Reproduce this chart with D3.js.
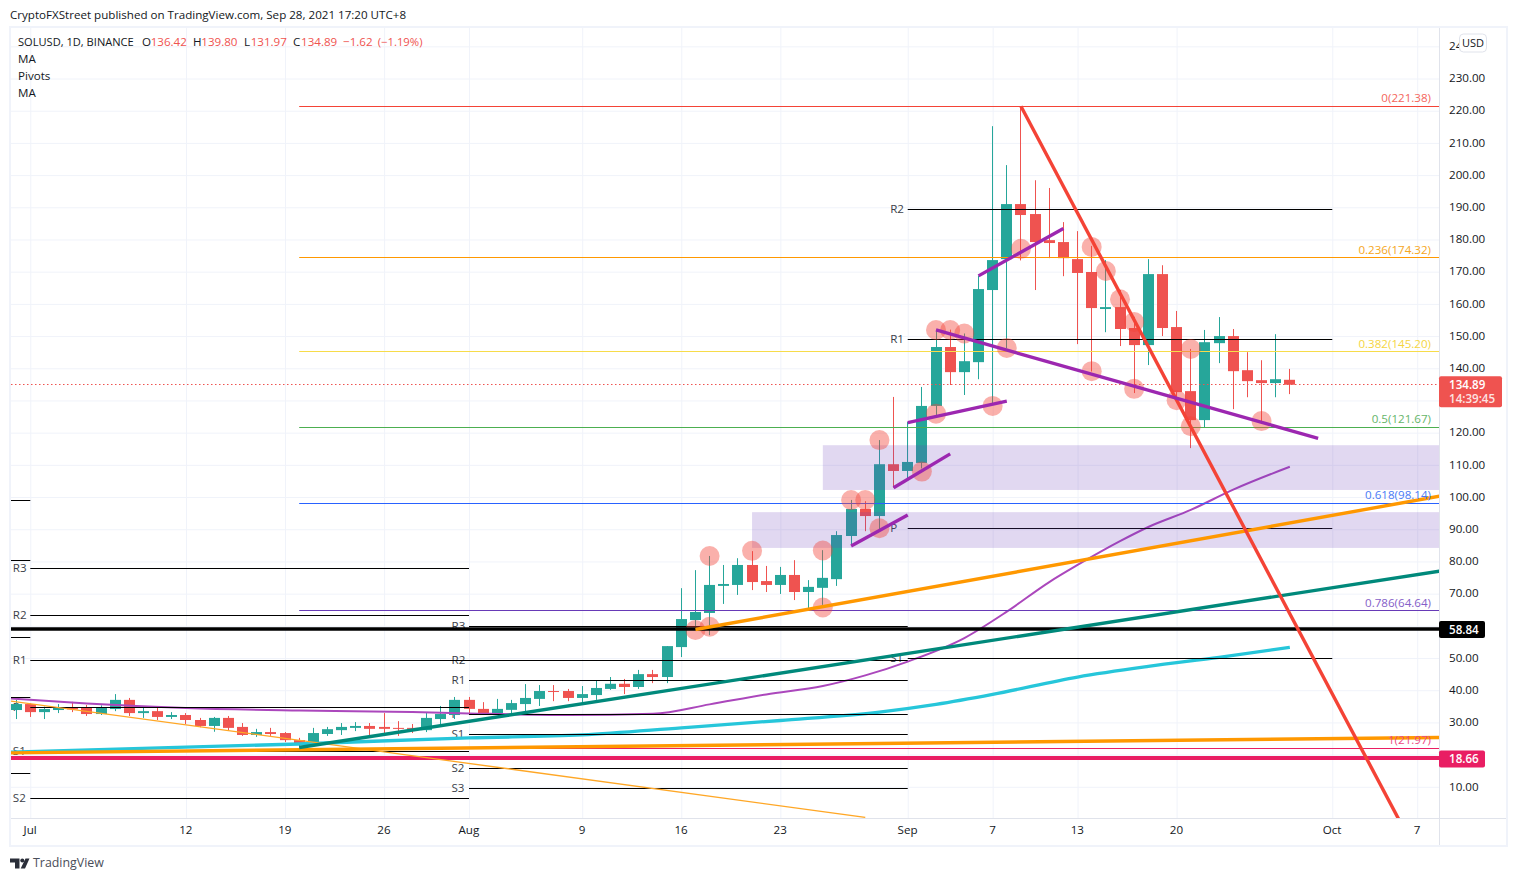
<!DOCTYPE html>
<html>
<head>
<meta charset="utf-8">
<title>SOLUSD</title>
<script src="https://cdn.jsdelivr.net/npm/d3@7"></script>
<style>
  html, body { margin: 0; background: #fff; }
  svg { display: block; }
  text { font-family: "Open Sans", "Noto Sans", sans-serif; font-size: 11.6px; fill: #131722; }
</style>
</head>
<body>
<script>
"use strict";

//Daily candles, first one is Jun 30
const firstCandle = "2021-06-30";
const opens = [33.85, 35.7, 33.2, 33.85, 34.7, 34.5, 32.6, 34.15, 37, 32.9, 33.5, 31.7, 32.3, 30.75, 28.9, 31.4, 28.6, 26.1, 27, 26.7, 24.5, 23.3, 26.4, 27.6, 28.3, 28.9, 28.6, 28.3, 28.3, 27.6, 31.05, 32.3,
  37, 34.2, 32.9, 33.9, 35.7, 37.3, 39.75, 39.75, 37.6, 38.5, 40.4, 42, 41, 45, 44.1, 53.4, 61.8, 64, 72.4, 72.7, 78.9, 73.9, 72.7, 75.8, 70.5, 71.8, 74.5, 87.9, 96.3, 94.1, 110.2,
  108.1, 110.6, 128.3, 146.6, 138.8, 141.9, 164.3, 173.9, 191, 187.9, 179.8, 179.2, 173.9, 169.9, 158.4, 159, 152.5, 147.2, 169.25, 152.8, 132.9, 123.9, 147.8, 150, 139.4, 136.3, 135.4, 136.42];
const highs = [37, 35.9, 34.9, 35.7, 36.4, 35.4, 35.3, 38.8, 37.6, 35.1, 34.5, 33.2, 32.9, 31.4, 31.7, 32, 29.8, 28, 28.3, 27, 25.2, 28.3, 28.6, 29.8, 30.1, 29.8, 32.9, 30.4, 29.5, 32.9, 35.1, 37.9,
  37.9, 36.3, 37.3, 37, 41.9, 41.6, 41.6, 40.4, 41.3, 42.9, 44.1, 43.5, 46.3, 46.3, 53.7, 71.7, 77.3, 81.7, 78.9, 81, 83.2, 78.6, 78.3, 80.4, 74.2, 83.5, 89.4, 99.1, 98.7, 117.7, 131.1,
  123.3, 134.2, 152, 152, 150.8, 168.7, 215.2, 203.1, 221.38, 198.4, 196, 185.4, 182.6, 178, 173.6, 164.3, 156, 173.9, 172, 157.8, 146, 151.9, 155.9, 152.2, 145, 142.5, 150.6, 139.8];
const lows = [31.05, 31.7, 31.05, 32.9, 33.2, 32, 32.3, 33.5, 32, 31.4, 30.75, 31.05, 29.5, 28.5, 27.1, 27.6, 25.8, 25.5, 25.8, 23.9, 21.95, 23, 25.8, 26.1, 27.3, 26.1, 26.4, 25.8, 26.7, 27, 29.2, 31.05,
  32.9, 32.3, 32.3, 32.8, 33.4, 35.1, 36.6, 36.6, 36, 37, 40.1, 38.8, 40.4, 42.2, 42.2, 50.3, 58.7, 57.1, 66.8, 69.6, 71.1, 70.5, 69.9, 68, 65.4, 66.5, 72.4, 84.8, 89.4, 89.8, 102.9,
  105.8, 108.9, 125.5, 134.8, 131.7, 136.6, 129.1, 146.2, 173.5, 164.3, 174.2, 168.6, 147.5, 139, 151.2, 146.9, 132.3, 141, 150, 130, 115.2, 121.7, 141.6, 127.3, 131, 123.4, 131, 131.97];
const closes = [35.7, 33.2, 34.15, 34.7, 34.05, 32.6, 34.5, 37, 32.9, 33.5, 31.7, 32.3, 30.75, 28.9, 31.4, 28.3, 26.1, 27, 26.4, 24.5, 23.3, 26.7, 27.9, 28.6, 28.9, 28, 28, 28, 28, 31.4, 32.6, 37,
  34.2, 32.9, 34.2, 36, 37.6, 39.75, 39.45, 37.6, 38.8, 40.7, 42, 41, 45, 44.1, 53.7, 62.1, 64.3, 72.7, 73, 78.9, 73.6, 72.7, 75.8, 70.5, 72.1, 74.9, 88.2, 96.3, 94.1, 110.2, 108.1,
  110.9, 128.3, 146.6, 138.8, 142.2, 164.6, 173.6, 191, 187.6, 179.2, 178.9, 174.2, 169.6, 158.7, 159, 152.2, 147.2, 169.25, 152.5, 132.6, 123.9, 148.1, 150, 139.1, 136, 135.4, 136.6, 134.89];

//Moving averages
const maPurpleDates = ["2021-06-29", "2021-07-05", "2021-07-12", "2021-07-20", "2021-07-28", "2021-08-01", "2021-08-08", "2021-08-14", "2021-08-18", "2021-08-22", "2021-08-26", "2021-08-29", "2021-09-01", "2021-09-05", "2021-09-08", "2021-09-11", "2021-09-13", "2021-09-16", "2021-09-18", "2021-09-21", "2021-09-24", "2021-09-28"];
const maPurpleValues = [37.6, 35.9, 34.5, 33.7, 33.2, 32.8, 32.3, 32.7, 35.6, 38.7, 41.3, 44.6, 48.9, 56.2, 64.4, 73.6, 78.9, 86.3, 90.7, 96, 102.3, 109.4];
const maCyanDates = ["2021-06-29", "2021-07-20", "2021-08-01", "2021-08-09", "2021-08-16", "2021-08-23", "2021-08-30", "2021-09-03", "2021-09-07", "2021-09-13", "2021-09-18", "2021-09-23", "2021-09-28"];
const maCyanValues = [20.7, 23.3, 25.2, 26.1, 28.3, 30.6, 33.2, 35.6, 38.7, 44.1, 47.4, 50.2, 53.3];

//Fibonacci retracement
const fibNames = ["0", "0.236", "0.382", "0.5", "0.618", "0.786", "1"];
const fibLevels = [221.38, 174.32, 145.2, 121.67, 98.14, 64.64, 21.97];
const fibColors = ["#f44336", "#ff9800", "#f7dc4a", "#4caf50", "#2962ff", "#673ab7", "#e91e63"];
const fibTextColors = ["#f4665c", "#f5a623", "#f5d53f", "#66b56a", "#4a7af5", "#8560c8", "#ec4a82"];

//Pivot levels per month, the June one only shows before Jul 1
const pivotJunLevels = [99, 80.3, 56.4, 37.8, 14.2];
const pivotJulNames = ["R3", "R2", "R1", "P", "S1", "S2"];
const pivotJulLevels = [77.9, 63.3, 49.3, 34.7, 21.1, 6.4];
const pivotAugNames = ["R3", "R2", "R1", "P", "S1", "S2", "S3"];
const pivotAugLevels = [59.7, 49.2, 43.1, 32.5, 26.3, 15.7, 9.4];
const pivotSepNames = ["R2", "R1", "P", "S1"];
const pivotSepLevels = [189.3, 149, 90.3, 49.9];

//Supply and demand boxes
const zoneStarts = ["2021-08-21", "2021-08-26"];
const zoneTops = [95.3, 116.1];
const zoneBottoms = [84.2, 102.2];

//Marked touches
const touchDates = ["2021-08-17", "2021-08-18", "2021-08-18", "2021-08-21", "2021-08-26", "2021-08-26", "2021-08-28", "2021-08-29", "2021-08-30", "2021-08-30", "2021-09-02", "2021-09-03", "2021-09-03", "2021-09-04", "2021-09-05", "2021-09-07", "2021-09-08", "2021-09-09", "2021-09-14", "2021-09-14", "2021-09-15", "2021-09-16", "2021-09-17", "2021-09-17", "2021-09-20", "2021-09-21", "2021-09-21", "2021-09-26"];
const touchPrices = [58.7, 81.7, 59.7, 83.3, 83.4, 65.7, 99.1, 99.1, 90.3, 117.7, 107.9, 125.9, 151.9, 151.9, 150.8, 128.3, 146.3, 177.1, 177.7, 139.1, 170.2, 161.4, 154.4, 133.6, 130.1, 146, 122, 123.6];

//Trend lines: start date, start price, end date, end price
const trendStarts = ["2021-06-29", "2021-06-29", "2021-07-20", "2021-08-17", "2021-09-09", "2021-08-28", "2021-08-31", "2021-09-01", "2021-09-03", "2021-09-06"];
const trendStartPrices = [37, 20.5, 22.2, 58.85, 221.38, 84.8, 102.9, 123.1, 151.9, 168.7];
const trendEnds = ["2021-08-29", "2021-10-10", "2021-10-10", "2021-10-10", "2021-10-07", "2021-09-01", "2021-09-04", "2021-09-08", "2021-09-30", "2021-09-12"];
const trendEndPrices = [0.5, 25.4, 77.95, 101.4, -10.9, 94.4, 113.4, 129.8, 118.2, 183.4];
const trendColors = ["#ffa726", "#ff9800", "#00897b", "#ff9800", "#f44336", "#9c27b0", "#9c27b0", "#9c27b0", "#9c27b0", "#9c27b0"];
const trendWidths = [1.3, 3.4, 3.4, 3.4, 3.4, 3.4, 3.4, 3.4, 3.4, 3.4];

//Axis ticks
const priceTicks = d3.range(10, 250, 10);
const hiddenPriceLabels = [20, 60, 130];
const timeTicks = ["2021-07-01", "2021-07-12", "2021-07-19", "2021-07-26", "2021-08-01", "2021-08-09", "2021-08-16", "2021-08-23", "2021-09-01", "2021-09-07", "2021-09-13", "2021-09-20", "2021-10-01", "2021-10-07"];
const timeLabels = ["Jul", "12", "19", "26", "Aug", "9", "16", "23", "Sep", "7", "13", "20", "Oct", "7"];

const lastPrice = 134.89;
const supportBlack = 58.84;
const supportPink = 18.66;

//SVG dimensions
const w = 1517;
const h = 881;
const frameLeft = 10;
const frameRight = 1507;
const frameTop = 27;
const frameBottom = 846;
const plotLeft = 11;
const plotRight = 1439;
const plotBottom = 818;

const green = "#26a69a";
const red = "#ef5350";

const parseDay = d3.utcParse("%Y-%m-%d");

const xScale = d3
  .scaleUtc()
  .domain([parseDay("2021-07-01"), parseDay("2021-10-07")])
  .range([30.3, 1417.2]);
const yScale = d3.scaleLinear().domain([0, 246]).range([819, frameTop]);

//Keeps 1px lines on the pixel grid
const crisp = (v) => Math.floor(v) + 0.5;
const candleX = (date) => crisp(xScale(date));

const candles = opens.map((open, i) => ({
  date: d3.utcDay.offset(parseDay(firstCandle), i),
  open,
  high: highs[i],
  low: lows[i],
  close: closes[i],
}));

const svg = d3.select("body").append("svg").attr("width", w).attr("height", h);

svg
  .append("defs")
  .append("clipPath")
  .attr("id", "plot")
  .append("rect")
  .attr("x", plotLeft)
  .attr("y", frameTop)
  .attr("width", plotRight - plotLeft)
  .attr("height", plotBottom - frameTop);

//Grid from the axes' own ticks
const xGrid = d3
  .axisBottom(xScale)
  .tickValues(timeTicks.map(parseDay))
  .tickSize(plotBottom - frameTop)
  .tickFormat("");
svg
  .append("g")
  .attr("transform", `translate(0, ${frameTop})`)
  .call(xGrid)
  .call((g) => g.select(".domain").remove())
  .call((g) => g.selectAll("line").attr("stroke", "#f0f3fa"));

const yGrid = d3
  .axisLeft(yScale)
  .tickValues(priceTicks)
  .tickSize(plotRight - plotLeft)
  .tickFormat("");
svg
  .append("g")
  .attr("transform", `translate(${plotRight}, 0)`)
  .call(yGrid)
  .call((g) => g.select(".domain").remove())
  .call((g) => g.selectAll("line").attr("stroke", "#f0f3fa"));

const plot = svg.append("g").attr("clip-path", "url(#plot)");

//Pivot labels sit under the candles
const pivotLabel = (names, levels, start) => {
  plot
    .append("g")
    .selectAll("text")
    .data(names)
    .enter()
    .append("text")
    .attr("x", xScale(parseDay(start)) - 17.5)
    .attr("y", (d, i) => yScale(levels[i]))
    .attr("dy", "0.3em")
    .style("fill", "#3c3f4a")
    .text((d) => d);
};
pivotLabel(pivotJulNames, pivotJulLevels, "2021-07-01");
pivotLabel(pivotAugNames, pivotAugLevels, "2021-08-01");
pivotLabel(pivotSepNames, pivotSepLevels, "2021-09-01");

//Candles
const candle = plot.append("g").selectAll("g").data(candles).enter().append("g");
candle
  .append("line")
  .attr("x1", (d) => candleX(d.date))
  .attr("x2", (d) => candleX(d.date))
  .attr("y1", (d) => yScale(d.high))
  .attr("y2", (d) => yScale(d.low))
  .attr("stroke", (d) => (d.close >= d.open ? green : red));
candle
  .append("rect")
  .attr("x", (d) => candleX(d.date) - 5.5)
  .attr("width", 11)
  .attr("y", (d) => yScale(Math.max(d.open, d.close)))
  .attr("height", (d) => Math.max(1, Math.abs(yScale(d.open) - yScale(d.close))))
  .attr("fill", (d) => (d.close >= d.open ? green : red));

//Moving averages
const line = d3
  .line()
  .x((d) => xScale(d[0]))
  .y((d) => yScale(d[1]))
  .curve(d3.curveMonotoneX);
const drawMa = (dates, values, color, width) => {
  plot
    .append("path")
    .attr("d", line(dates.map((d, i) => [parseDay(d), values[i]])))
    .attr("fill", "none")
    .attr("stroke", color)
    .attr("stroke-width", width);
};
drawMa(maPurpleDates, maPurpleValues, "#ab47bc", 2);
drawMa(maCyanDates, maCyanValues, "#26c6da", 3.3);

//Pivot lines
const pivotLines = (levels, start, end) => {
  plot
    .append("g")
    .selectAll("line")
    .data(levels)
    .enter()
    .append("line")
    .attr("x1", xScale(parseDay(start)))
    .attr("x2", xScale(parseDay(end)))
    .attr("y1", (d) => crisp(yScale(d)))
    .attr("y2", (d) => crisp(yScale(d)))
    .attr("stroke", "#000")
    .attr("stroke-width", 1);
};
pivotLines(pivotJunLevels, "2021-06-01", "2021-07-01");
pivotLines(pivotJulLevels, "2021-07-01", "2021-08-01");
pivotLines(pivotAugLevels, "2021-08-01", "2021-09-01");
pivotLines(pivotSepLevels, "2021-09-01", "2021-10-01");

//Fib lines start at the Jul 20 low
const fibStart = xScale(parseDay("2021-07-20"));
plot
  .append("g")
  .selectAll("line")
  .data(fibLevels)
  .enter()
  .append("line")
  .attr("x1", fibStart)
  .attr("x2", plotRight)
  .attr("y1", (d) => crisp(yScale(d)))
  .attr("y2", (d) => crisp(yScale(d)))
  .attr("stroke", (d, i) => fibColors[i])
  .attr("stroke-width", 1);

//Boxes
plot
  .append("g")
  .selectAll("rect")
  .data(zoneStarts)
  .enter()
  .append("rect")
  .attr("x", (d) => xScale(parseDay(d)))
  .attr("width", (d) => plotRight - xScale(parseDay(d)))
  .attr("y", (d, i) => yScale(zoneTops[i]))
  .attr("height", (d, i) => yScale(zoneBottoms[i]) - yScale(zoneTops[i]))
  .attr("fill", "#673ab7")
  .attr("fill-opacity", 0.2);

//Price line
plot
  .append("line")
  .attr("x1", plotLeft)
  .attr("x2", plotRight)
  .attr("y1", crisp(yScale(lastPrice)))
  .attr("y2", crisp(yScale(lastPrice)))
  .attr("stroke", red)
  .attr("stroke-dasharray", "1.5 2.5");

//Circles on the touches
plot
  .append("g")
  .selectAll("circle")
  .data(touchDates)
  .enter()
  .append("circle")
  .attr("cx", (d) => xScale(parseDay(d)))
  .attr("cy", (d, i) => yScale(touchPrices[i]))
  .attr("r", 10)
  .attr("fill", "#f44336")
  .attr("fill-opacity", 0.42);

//Horizontal supports
[
  [supportBlack, "#000", 3.3],
  [supportPink, "#e91e63", 4],
].forEach((level) => {
  plot
    .append("line")
    .attr("x1", plotLeft)
    .attr("x2", plotRight)
    .attr("y1", Math.floor(yScale(level[0])))
    .attr("y2", Math.floor(yScale(level[0])))
    .attr("stroke", level[1])
    .attr("stroke-width", level[2]);
});

//Trend lines
plot
  .append("g")
  .selectAll("line")
  .data(trendStarts)
  .enter()
  .append("line")
  .attr("x1", (d) => xScale(parseDay(d)))
  .attr("y1", (d, i) => yScale(trendStartPrices[i]))
  .attr("x2", (d, i) => xScale(parseDay(trendEnds[i])))
  .attr("y2", (d, i) => yScale(trendEndPrices[i]))
  .attr("stroke", (d, i) => trendColors[i])
  .attr("stroke-width", (d, i) => trendWidths[i]);

//Fib labels
plot
  .append("g")
  .selectAll("text")
  .data(fibLevels)
  .enter()
  .append("text")
  .attr("x", 1431)
  .attr("y", (d) => yScale(d) - 8)
  .attr("dy", "0.36em")
  .attr("text-anchor", "end")
  .style("fill", (d, i) => fibTextColors[i])
  .text((d, i) => `${fibNames[i]}(${d3.format(".2f")(d)})`);

//Frame and axis lines
svg
  .append("rect")
  .attr("x", frameLeft)
  .attr("y", frameTop)
  .attr("width", frameRight - frameLeft)
  .attr("height", frameBottom - frameTop)
  .attr("fill", "none")
  .attr("stroke", "#f0f3fa")
  .attr("stroke-width", 2);

//Price axis, the labels behind the price tags are not shown
const yAxis = d3
  .axisRight(yScale)
  .tickValues(priceTicks)
  .tickSize(0)
  .tickPadding(10)
  .tickFormat((d) => (hiddenPriceLabels.includes(d) ? "" : d3.format(".2f")(d)));
svg
  .append("g")
  .attr("transform", `translate(${plotRight}, -0.5)`)
  .call(yAxis)
  .call((g) => g.select(".domain").remove());

//Time axis
const xAxis = d3
  .axisBottom(xScale)
  .tickValues(timeTicks.map(parseDay))
  .tickSize(0)
  .tickPadding(8)
  .tickFormat((d, i) => timeLabels[i]);
svg
  .append("g")
  .attr("transform", `translate(-0.7, ${plotBottom})`)
  .call(xAxis)
  .call((g) => g.select(".domain").remove());

svg
  .selectAll(".axisLine")
  .data([
    [plotLeft, plotBottom + 0.5, frameRight - 1, plotBottom + 0.5],
    [plotRight + 0.5, frameTop + 1, plotRight + 0.5, frameBottom - 1],
  ])
  .enter()
  .append("line")
  .attr("x1", (d) => d[0])
  .attr("y1", (d) => d[1])
  .attr("x2", (d) => d[2])
  .attr("y2", (d) => d[3])
  .attr("stroke", "#e0e3eb");

//Price tags
const tag = (price, color, lines) => {
  svg
    .append("rect")
    .attr("x", plotRight)
    .attr("y", yScale(price) - 8.5)
    .attr("width", lines.length === 1 ? 46 : 63)
    .attr("height", lines.length === 1 ? 17 : 31)
    .attr("rx", 2)
    .attr("fill", color);
  lines.forEach((label, i) => {
    svg
      .append("text")
      .attr("x", plotRight + 10)
      .attr("y", yScale(price) + i * 14.5)
      .attr("dy", "0.36em")
      .style("fill", i === 0 ? "#fff" : "#fde3e2")
      .style("font-weight", 600)
      .text(label);
  });
};
tag(lastPrice, red, ["134.89", "14:39:45"]);
tag(supportBlack, "#000", ["58.84"]);
tag(supportPink, "#e91e63", ["18.66"]);

//USD box on top of the clipped 240 label
svg
  .append("rect")
  .attr("x", 1459.5)
  .attr("y", 34)
  .attr("width", 27)
  .attr("height", 18)
  .attr("rx", 4)
  .attr("fill", "#fff")
  .attr("stroke", "#e0e3eb");
svg
  .append("text")
  .attr("x", 1473)
  .attr("y", 43)
  .attr("dy", "0.36em")
  .attr("text-anchor", "middle")
  .style("font-size", "11px")
  .text("USD");

//Header and legend
svg.append("text").attr("x", 10).attr("y", 15).attr("dy", "0.36em").text("CryptoFXStreet published on TradingView.com, Sep 28, 2021 17:20 UTC+8");

const legend = [
  [18, "SOLUSD, 1D, BINANCE", "#131722", 11.1],
  [142, "O", "#131722", 11.6],
  [150.7, "136.42", red, 11.6],
  [193, "H", "#131722", 11.6],
  [201.3, "139.80", red, 11.6],
  [244, "L", "#131722", 11.6],
  [250.7, "131.97", red, 11.6],
  [293, "C", "#131722", 11.6],
  [301, "134.89", red, 11.6],
  [343, "\u22121.62", red, 11.6],
  [377.7, "(\u22121.19%)", red, 11.3],
];
svg
  .selectAll(".legend")
  .data(legend)
  .enter()
  .append("text")
  .attr("x", (d) => d[0])
  .attr("y", 42)
  .attr("dy", "0.36em")
  .style("fill", (d) => d[2])
  .style("font-size", (d) => `${d[3]}px`)
  .text((d) => d[1]);
["MA", "Pivots", "MA"].forEach((label, i) => {
  svg
    .append("text")
    .attr("x", 18)
    .attr("y", 59 + i * 17)
    .attr("dy", "0.36em")
    .text(label);
});

//TradingView mark
svg.append("path").attr("d", "M10 858.5h9.5v10h-4.5v-6h-5z M25.5 858.5h4l-4.5 10h-4.3z").attr("fill", "#2a2e39");
svg.append("circle").attr("cx", 22.3).attr("cy", 860.6).attr("r", 2).attr("fill", "#2a2e39");
svg
  .append("text")
  .attr("x", 33)
  .attr("y", 863)
  .attr("dy", "0.36em")
  .style("font-size", "12.4px")
  .style("fill", "#4a4e59")
  .text("TradingView");
</script>
</body>
</html>
